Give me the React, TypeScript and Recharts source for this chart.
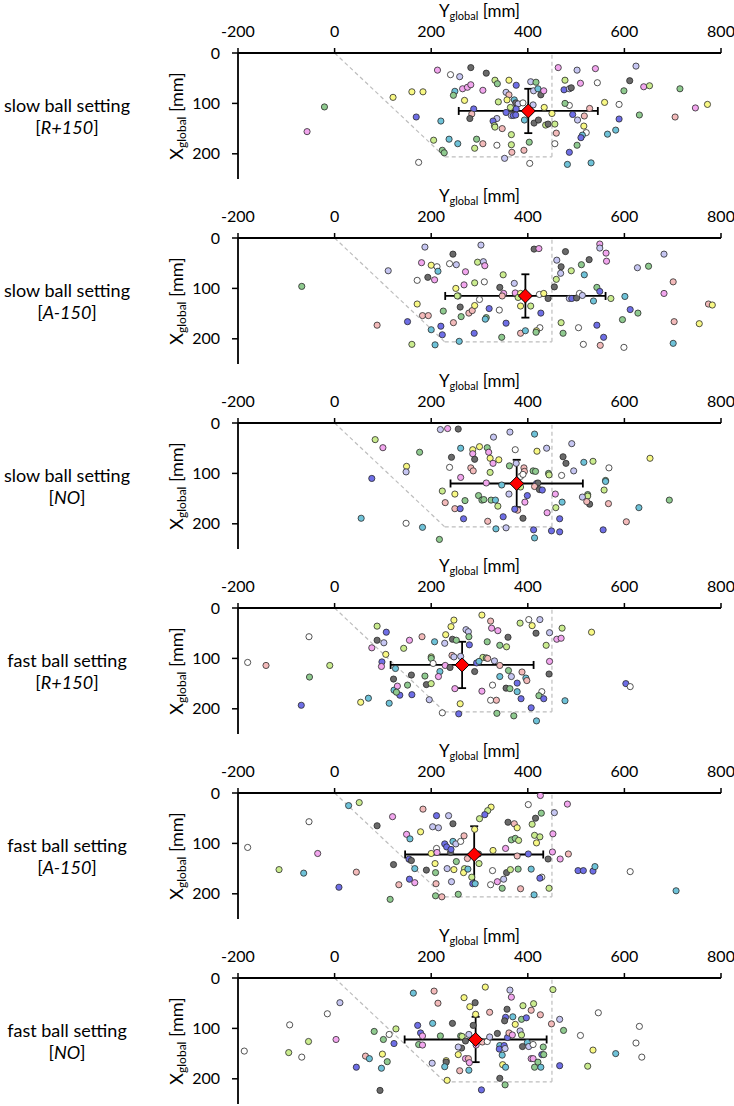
import React from 'react'
import { ScatterChart, Scatter, XAxis, YAxis, ReferenceLine, ErrorBar } from 'recharts'

// [Y_global, X_global, participant]
const slowR150 = [
  [213, 34, 1], [240, 43, 0], [259, 47, 9], [282, 29, 6], [314, 40, 6], [332, 54, 4], [337, 61, 5], [361, 54, 3], [376, 64, 8], [406, 57, 9],
  [417, 58, 5], [463, 29, 1], [502, 34, 9], [540, 31, 1], [624, 26, 9], [477, 54, 4], [509, 60, 1], [544, 59, 0], [611, 55, 6], [475, 73, 8],
  [486, 71, 9], [490, 69, 6], [599, 75, 5], [640, 67, 1], [652, 65, 4], [715, 71, 5], [121, 88, 3], [160, 77, 3], [183, 77, 3], [-21, 107, 5],
  [-57, 156, 1], [169, 127, 8], [220, 135, 7], [249, 76, 7], [246, 84, 5], [265, 71, 1], [275, 68, 1], [282, 63, 1], [307, 74, 1], [269, 94, 3],
  [288, 111, 8], [284, 121, 2], [280, 130, 6], [355, 78, 9], [361, 83, 2], [357, 93, 3], [339, 97, 4], [372, 93, 7], [375, 99, 6], [380, 101, 9],
  [390, 99, 0], [364, 108, 4], [376, 111, 8], [355, 118, 8], [366, 124, 9], [370, 124, 8], [375, 123, 8], [336, 130, 9], [328, 135, 8], [331, 144, 4],
  [332, 147, 4], [347, 150, 2], [366, 162, 4], [393, 133, 7], [413, 139, 6], [422, 133, 6], [437, 143, 4], [442, 141, 6], [456, 141, 4], [412, 75, 9],
  [421, 71, 7], [427, 83, 6], [433, 75, 1], [411, 103, 9], [434, 108, 3], [450, 120, 3], [486, 104, 0], [477, 100, 5], [493, 122, 8], [503, 133, 9],
  [517, 125, 2], [528, 110, 2], [516, 145, 3], [521, 158, 0], [513, 163, 7], [510, 168, 8], [502, 183, 5], [486, 197, 8], [482, 221, 7], [531, 218, 7],
  [589, 131, 8], [589, 102, 0], [559, 98, 3], [582, 153, 7], [565, 161, 7], [631, 123, 5], [705, 127, 2], [747, 109, 1], [772, 102, 3], [459, 159, 2],
  [456, 180, 0], [205, 173, 4], [237, 171, 7], [255, 180, 7], [294, 171, 5], [290, 189, 4], [307, 180, 2], [336, 183, 0], [366, 182, 4], [392, 193, 2],
  [403, 177, 5], [367, 197, 2], [352, 209, 9], [404, 219, 0], [174, 217, 0], [223, 193, 5], [227, 198, 5],
]

const slowA150 = [
  [187, 18, 9], [303, 14, 9], [245, 32, 6], [413, 22, 6], [423, 21, 1], [478, 27, 6], [549, 12, 1], [549, 20, 9], [562, 30, 1], [563, 46, 1],
  [527, 43, 6], [511, 53, 5], [682, 32, 9], [460, 44, 9], [469, 57, 6], [468, 70, 9], [490, 65, 4], [517, 73, 7], [627, 59, 9], [650, 56, 5],
  [180, 49, 1], [200, 54, 3], [212, 57, 0], [214, 66, 7], [238, 51, 0], [252, 53, 9], [271, 67, 1], [296, 48, 4], [308, 47, 9], [311, 55, 1],
  [111, 65, 9], [171, 84, 0], [193, 78, 6], [207, 83, 1], [-68, 96, 5], [251, 100, 3], [268, 93, 1], [256, 115, 5], [254, 115, 4], [290, 89, 4],
  [310, 87, 0], [349, 73, 4], [372, 90, 9], [342, 98, 6], [350, 110, 1], [347, 115, 2], [374, 109, 1], [385, 110, 3], [380, 118, 4], [385, 135, 3],
  [406, 135, 4], [424, 112, 0], [433, 110, 3], [442, 120, 6], [455, 97, 6], [459, 82, 4], [486, 120, 9], [491, 120, 8], [501, 119, 6], [507, 110, 0],
  [513, 114, 9], [543, 98, 5], [549, 106, 8], [536, 125, 7], [572, 120, 4], [601, 116, 7], [612, 142, 8], [628, 149, 5], [701, 87, 2], [682, 110, 1],
  [774, 131, 2], [782, 133, 3], [755, 170, 3], [703, 166, 2], [701, 209, 7], [171, 131, 3], [182, 154, 2], [194, 154, 2], [151, 166, 8], [88, 173, 2],
  [225, 145, 5], [260, 137, 6], [262, 156, 5], [278, 149, 2], [285, 144, 2], [290, 134, 3], [300, 122, 0], [320, 140, 8], [314, 158, 5], [312, 161, 7],
  [341, 143, 0], [355, 169, 8], [427, 149, 8], [246, 168, 2], [220, 175, 8], [200, 182, 7], [223, 192, 8], [160, 211, 4], [208, 212, 7], [258, 205, 7],
  [289, 189, 8], [346, 197, 5], [385, 189, 2], [395, 184, 7], [425, 178, 0], [418, 184, 3], [417, 187, 5], [469, 168, 4], [473, 189, 5], [505, 178, 0],
  [543, 173, 8], [557, 197, 8], [515, 211, 0], [550, 213, 2], [599, 217, 0], [596, 162, 5],
]

const slowNO = [
  [219, 13, 9], [234, 11, 1], [256, 12, 6], [329, 28, 9], [363, 18, 9], [414, 22, 7], [491, 41, 9], [84, 33, 4], [100, 49, 1], [176, 58, 5],
  [261, 50, 7], [286, 53, 3], [300, 47, 3], [316, 49, 5], [319, 58, 1], [286, 61, 1], [242, 68, 6], [290, 72, 6], [322, 70, 3], [340, 73, 3],
  [328, 80, 1], [374, 53, 0], [419, 56, 3], [439, 50, 9], [473, 67, 6], [479, 80, 6], [516, 78, 7], [535, 76, 4], [568, 89, 0], [653, 70, 3],
  [149, 86, 3], [148, 97, 9], [77, 110, 8], [238, 88, 0], [282, 89, 2], [287, 95, 2], [261, 108, 1], [322, 98, 4], [362, 85, 5], [376, 80, 9],
  [392, 89, 2], [393, 96, 2], [385, 106, 0], [390, 102, 0], [411, 95, 5], [416, 96, 5], [443, 100, 5], [444, 103, 4], [470, 104, 0], [495, 95, 9],
  [561, 114, 5], [561, 116, 7], [558, 133, 4], [567, 160, 2], [524, 142, 5], [524, 145, 4], [528, 161, 6], [513, 147, 9], [522, 156, 2], [630, 168, 7],
  [693, 153, 5], [604, 196, 2], [556, 212, 8], [314, 119, 1], [346, 123, 7], [361, 141, 9], [385, 127, 4], [418, 120, 8], [421, 119, 6], [414, 126, 2],
  [424, 132, 6], [430, 133, 8], [457, 141, 1], [399, 144, 8], [394, 157, 1], [458, 168, 4], [471, 157, 7], [440, 178, 1], [466, 190, 8], [390, 189, 6],
  [379, 173, 2], [373, 171, 8], [349, 186, 8], [317, 195, 2], [334, 210, 7], [355, 208, 9], [412, 212, 8], [414, 228, 7], [449, 214, 8], [466, 216, 8],
  [267, 190, 8], [249, 170, 2], [260, 170, 8], [229, 158, 2], [223, 135, 4], [249, 141, 3], [270, 154, 5], [298, 144, 5], [305, 153, 5], [324, 153, 5],
  [333, 153, 7], [338, 165, 4], [182, 207, 7], [148, 199, 0], [217, 231, 5], [55, 189, 7], [309, 152, 5],
]

const fastR150 = [
  [305, 14, 3], [323, 26, 2], [384, 30, 4], [402, 23, 0], [425, 23, 9], [409, 35, 3], [247, 24, 3], [241, 37, 3], [272, 43, 9], [277, 47, 9],
  [325, 40, 1], [338, 45, 1], [417, 50, 6], [445, 49, 9], [471, 40, 4], [460, 62, 1], [469, 60, 1], [438, 74, 4], [532, 48, 3], [88, 36, 4],
  [107, 48, 8], [-53, 57, 0], [88, 64, 6], [102, 69, 9], [77, 79, 1], [106, 92, 3], [143, 80, 4], [155, 64, 1], [181, 57, 2], [207, 67, 7],
  [228, 70, 9], [230, 53, 3], [244, 62, 6], [252, 64, 5], [278, 57, 5], [279, 73, 8], [316, 67, 5], [342, 74, 5], [356, 77, 4], [359, 58, 6],
  [-180, 108, 0], [-142, 114, 2], [-10, 114, 4], [-52, 137, 5], [98, 107, 8], [97, 116, 1], [200, 97, 4], [200, 100, 5], [204, 110, 0], [243, 94, 2],
  [247, 97, 9], [261, 96, 9], [229, 114, 1], [218, 126, 7], [239, 118, 6], [215, 136, 1], [307, 98, 4], [314, 99, 5], [317, 100, 2], [294, 109, 8],
  [299, 106, 7], [331, 105, 9], [342, 114, 2], [290, 126, 6], [360, 124, 5], [342, 136, 7], [366, 136, 9], [388, 127, 2], [396, 139, 7], [398, 144, 2],
  [378, 149, 8], [355, 159, 6], [363, 160, 5], [327, 153, 0], [378, 166, 7], [305, 165, 1], [249, 160, 1], [444, 131, 6], [445, 106, 1], [429, 166, 0],
  [423, 174, 5], [433, 180, 8], [386, 180, 8], [407, 198, 8], [418, 224, 7], [371, 214, 5], [336, 209, 5], [323, 183, 0], [335, 183, 2], [257, 210, 8],
  [223, 208, 0], [260, 190, 3], [196, 182, 9], [160, 172, 8], [135, 173, 8], [113, 189, 7], [70, 179, 7], [54, 187, 3], [-69, 193, 8], [122, 141, 6],
  [123, 163, 7], [130, 155, 1], [128, 167, 5], [151, 153, 5], [159, 133, 6], [187, 135, 5], [190, 152, 6], [200, 150, 4], [126, 120, 7], [477, 184, 7],
  [603, 150, 8], [612, 156, 0],
]

const fastA150 = [
  [426, 5, 1], [51, 19, 4], [29, 25, 7], [183, 32, 2], [324, 28, 3], [317, 35, 4], [311, 43, 8], [300, 51, 4], [401, 23, 0], [482, 22, 1],
  [455, 39, 9], [428, 40, 5], [416, 50, 6], [409, 62, 4], [211, 45, 8], [236, 45, 9], [120, 47, 1], [-53, 57, 0], [88, 65, 6], [203, 67, 9],
  [215, 69, 9], [245, 61, 6], [359, 58, 6], [372, 61, 2], [378, 69, 3], [178, 77, 3], [149, 82, 1], [156, 91, 7], [268, 85, 2], [290, 72, 3],
  [414, 84, 4], [425, 87, 4], [418, 99, 3], [452, 81, 1], [366, 93, 5], [374, 90, 5], [381, 94, 4], [228, 101, 8], [232, 107, 8], [245, 96, 7],
  [251, 101, 9], [261, 96, 0], [211, 110, 0], [-180, 108, 0], [-35, 120, 1], [200, 120, 3], [212, 118, 1], [240, 118, 6], [241, 112, 8], [275, 130, 2],
  [298, 121, 6], [328, 114, 3], [354, 110, 1], [378, 125, 2], [401, 121, 8], [451, 117, 1], [442, 131, 6], [467, 131, 1], [484, 121, 2], [154, 131, 8],
  [159, 134, 6], [122, 142, 6], [166, 150, 7], [190, 153, 6], [209, 158, 5], [208, 140, 3], [233, 150, 9], [247, 152, 3], [252, 136, 5], [269, 150, 4],
  [267, 158, 3], [276, 151, 7], [299, 140, 4], [-115, 152, 4], [-64, 159, 7], [45, 157, 2], [327, 154, 0], [356, 158, 6], [364, 152, 4], [380, 151, 5],
  [407, 151, 7], [429, 167, 0], [425, 169, 8], [504, 154, 8], [515, 154, 8], [535, 155, 8], [539, 146, 7], [612, 156, 0], [707, 194, 7], [9, 187, 8],
  [115, 211, 5], [133, 182, 2], [155, 171, 8], [166, 178, 1], [210, 180, 2], [242, 176, 9], [284, 167, 4], [286, 180, 8], [291, 180, 7], [323, 182, 0],
  [337, 176, 1], [350, 171, 9], [347, 189, 5], [385, 190, 2], [444, 189, 4], [413, 202, 7], [209, 204, 5], [222, 206, 2], [256, 201, 5],
]

const fastNO = [
  [312, 18, 3], [163, 30, 7], [206, 26, 2], [363, 24, 9], [366, 38, 1], [452, 23, 4], [214, 50, 2], [268, 39, 3], [291, 49, 6], [280, 57, 3],
  [321, 68, 2], [357, 62, 6], [390, 55, 4], [412, 51, 4], [407, 64, 2], [426, 73, 2], [11, 49, 9], [-15, 71, 0], [546, 69, 0], [292, 72, 3],
  [354, 78, 8], [369, 77, 7], [352, 85, 6], [387, 82, 5], [397, 79, 8], [374, 92, 3], [466, 82, 9], [449, 91, 2], [474, 104, 5], [-93, 93, 0],
  [172, 94, 8], [203, 90, 7], [244, 90, 6], [287, 94, 6], [82, 106, 5], [127, 101, 4], [113, 112, 0], [101, 122, 5], [123, 130, 8], [3, 122, 1],
  [-54, 126, 4], [-187, 145, 0], [-95, 148, 4], [-68, 157, 0], [178, 109, 8], [182, 115, 1], [219, 115, 5], [174, 132, 5], [182, 133, 1], [261, 115, 5],
  [264, 116, 4], [278, 112, 9], [271, 125, 6], [263, 139, 6], [256, 137, 9], [293, 133, 1], [306, 127, 2], [316, 126, 0], [321, 117, 9], [337, 110, 6],
  [358, 118, 8], [361, 109, 2], [368, 113, 1], [384, 105, 9], [387, 113, 4], [389, 136, 6], [399, 128, 7], [402, 136, 9], [411, 132, 0], [432, 137, 5],
  [342, 134, 7], [341, 141, 8], [351, 134, 8], [353, 140, 9], [347, 153, 7], [256, 152, 3], [271, 160, 1], [277, 160, 2], [279, 168, 1], [231, 164, 3],
  [231, 167, 6], [228, 176, 7], [202, 169, 9], [259, 184, 2], [278, 183, 7], [233, 203, 3], [304, 222, 8], [342, 199, 6], [353, 212, 5], [348, 172, 3],
  [354, 177, 7], [407, 160, 1], [411, 160, 1], [429, 152, 8], [433, 152, 5], [421, 167, 5], [414, 177, 5], [427, 177, 7], [466, 174, 8], [509, 114, 0],
  [535, 143, 3], [524, 175, 4], [582, 150, 7], [624, 129, 0], [631, 96, 0], [636, 157, 0], [99, 151, 3], [64, 155, 2], [72, 160, 7], [109, 166, 5],
  [97, 179, 7], [45, 177, 8], [94, 223, 6],
]

const panelPoints = [slowR150, slowA150, slowNO, fastR150, fastA150, fastNO]
const speedLabels = ['slow ball setting', 'slow ball setting', 'slow ball setting', 'fast ball setting', 'fast ball setting', 'fast ball setting']
const conditionLabels = ['R+150', 'A-150', 'NO', 'R+150', 'A-150', 'NO']

// mean and SD per panel (Y_global horizontal, X_global vertical)
const meanY = [401, 395, 377, 264, 289, 292]
const meanX = [115, 115, 120, 113, 122, 122]
const sdY = [144, 166, 137, 148, 143, 147]
const sdX = [44, 43, 47, 46, 56, 45]

// dashed reach zone outline (Y, X)
const zoneY = [0, 228, 450, 450]
const zoneX = [0, 206, 206, 0]

const yTicks = [-200, 0, 200, 400, 600, 800]
const xTicks = [0, 100, 200]

const palette = ['#ffffff', '#f2a6ee', '#f3baba', '#f8f884', '#caec8e', '#8fca8f', '#6a6a6a', '#6ec2d8', '#6e6ee6', '#c6c6f2']

const FONT = 'Lato, "Open Sans", sans-serif'
const PANEL_H = 185

const Dot = (props: any) => {
  const { cx, cy, payload } = props
  if (cx == null || cy == null) return null
  return <circle cx={cx} cy={cy} r={3.1} fill={palette[payload.s]} stroke="#2a2a2a" strokeWidth={0.8} />
}

const Diamond = (props: any) => {
  const { cx, cy } = props
  if (cx == null || cy == null) return null
  const r = 7
  return (
    <polygon
      points={`${cx},${cy - r} ${cx + r},${cy} ${cx},${cy + r} ${cx - r},${cy}`}
      fill="#ff0000"
      stroke="#000"
      strokeWidth={1}
    />
  )
}

function Panel({ idx }: { idx: number }) {
  const pts = panelPoints[idx].map(([y, x, s]) => ({ y, x, s }))
  const mean = [{ y: meanY[idx], x: meanX[idx], errH: sdY[idx], errV: sdX[idx] }]
  return (
    <div style={{ position: 'relative', width: 734, height: PANEL_H }}>
      <ScatterChart width={734} height={PANEL_H} margin={{ top: 23, right: 13, bottom: 6, left: 198 }} style={{ fontFamily: FONT }}>
        <XAxis
          type="number"
          dataKey="y"
          orientation="top"
          domain={[-200, 800]}
          ticks={yTicks}
          allowDataOverflow
          height={30}
          tickSize={5}
          tickMargin={11}
          axisLine={{ stroke: '#000', strokeWidth: 1.8 }}
          tickLine={{ stroke: '#000', strokeWidth: 1.5 }}
          tick={{ fill: '#000', fontSize: 16, fontFamily: FONT }}
        />
        <YAxis
          type="number"
          dataKey="x"
          reversed
          domain={[0, 250]}
          ticks={xTicks}
          allowDataOverflow
          width={40}
          tickSize={6}
          tickMargin={12}
          axisLine={{ stroke: '#000', strokeWidth: 1.8 }}
          tickLine={{ stroke: '#000', strokeWidth: 1.5 }}
          tick={{ fill: '#000', fontSize: 16, fontFamily: FONT }}
        />
        {/* reach zone outline */}
        <ReferenceLine segment={[{ x: zoneY[0], y: zoneX[0] }, { x: zoneY[1], y: zoneX[1] }]} stroke="#bdbdbd" strokeWidth={1.2} strokeDasharray="4 3" />
        <ReferenceLine segment={[{ x: zoneY[1], y: zoneX[1] }, { x: zoneY[2], y: zoneX[2] }]} stroke="#bdbdbd" strokeWidth={1.2} strokeDasharray="4 3" />
        <ReferenceLine segment={[{ x: zoneY[2], y: zoneX[2] }, { x: zoneY[3], y: zoneX[3] }]} stroke="#bdbdbd" strokeWidth={1.2} strokeDasharray="4 3" />
        <Scatter data={pts} shape={<Dot />} isAnimationActive={false} />
        <Scatter data={mean} shape={<Diamond />} isAnimationActive={false}>
          <ErrorBar dataKey="errH" direction="x" width={4} stroke="#000" strokeWidth={1.8} />
          <ErrorBar dataKey="errV" direction="y" width={4} stroke="#000" strokeWidth={1.8} />
        </Scatter>
      </ScatterChart>

      {/* top axis title */}
      <div style={{ position: 'absolute', left: 238, width: 483, top: 2, textAlign: 'center', fontFamily: FONT, fontSize: 17, lineHeight: '17px' }}>
        Y<sub style={{ fontSize: 11, verticalAlign: '-3px', lineHeight: '11px' }}>global</sub> [mm]
      </div>

      {/* left axis title */}
      <div
        style={{
          position: 'absolute',
          left: 106,
          top: 105,
          width: 140,
          height: 22,
          lineHeight: '22px',
          textAlign: 'center',
          transform: 'rotate(-90deg)',
          fontFamily: FONT,
          fontSize: 18,
          whiteSpace: 'nowrap',
        }}
      >
        X<sub style={{ fontSize: 12, verticalAlign: '-3px', lineHeight: '12px' }}>global</sub> [mm]
      </div>

      {/* condition label */}
      <div style={{ position: 'absolute', left: 0, width: 134, top: 94, textAlign: 'center', fontFamily: FONT, fontSize: 18, lineHeight: '22px' }}>
        {speedLabels[idx]}
        <br />[<i>{conditionLabels[idx]}</i>]
      </div>
    </div>
  )
}

export default function App() {
  return (
    <div style={{ width: 734, height: 1106, overflow: 'hidden', background: '#fff' }}>
      <style>{'body{margin:0}'}</style>
      {panelPoints.map((_, i) => (
        <Panel key={i} idx={i} />
      ))}
    </div>
  )
}
